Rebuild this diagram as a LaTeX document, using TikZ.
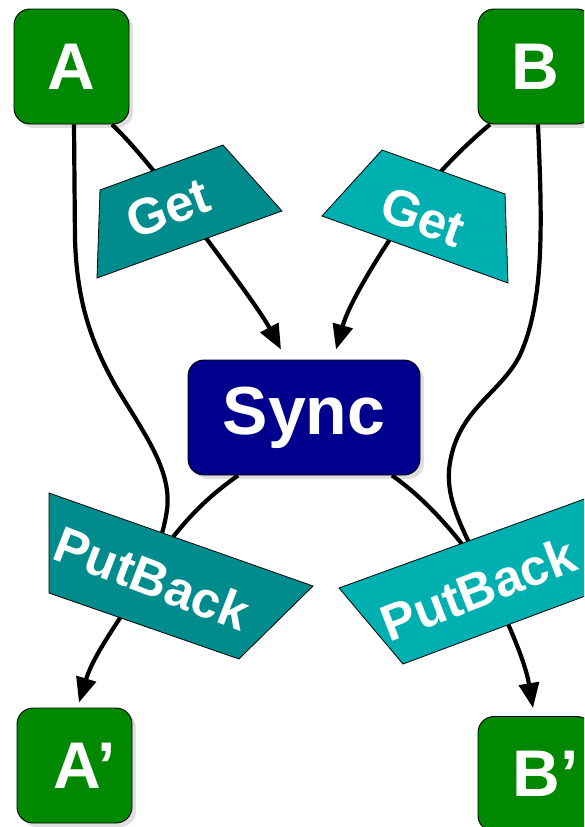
\documentclass[tikz,border=0pt]{standalone}
\usepackage{fontspec}
\setmainfont{Liberation Sans}
\usetikzlibrary{arrows.meta,shadows}

\definecolor{boxgreen}{RGB}{0,136,0}
\definecolor{syncblue}{RGB}{0,0,140}
\definecolor{tealdark}{RGB}{0,140,140}
\definecolor{teallight}{RGB}{0,176,176}

\begin{document}
\begin{tikzpicture}[x=1pt,y=-1pt,
  boxshadow/.style={drop shadow={shadow xshift=4pt,shadow yshift=-4pt,fill=black!25,opacity=.5}},
  databox/.style={draw=black,line width=0.9pt,rounded corners=16pt,fill=boxgreen,
    minimum width=115pt,minimum height=115pt,inner sep=0pt,text=white,
    font=\fontsize{66}{66}\selectfont\bfseries,boxshadow},
  syncbox/.style={databox,fill=syncblue,minimum width=232pt,
    font=\fontsize{68}{68}\selectfont\bfseries},
  lensdark/.style={draw=black,line width=0.8pt,fill=tealdark},
  lenslight/.style={draw=black,line width=0.8pt,fill=teallight},
  lenslabel/.style={text=white,inner sep=0pt,font=\fontsize{51}{51}\selectfont\bfseries},
  wire/.style={draw=black,line width=4.2pt},
  flow/.style={wire,-{Triangle[length=25pt,width=20pt]}}
]
\useasboundingbox (0,0) rectangle (584,827);
\clip (0,0) rectangle (584,827);

% data boxes and the synchroniser
\node[databox] (A)  at (71.5,66.5)  {A};
\node[databox] (B)  at (535.5,66.5) {B};
\node[databox] (A2) at (74.5,765.5) {\hspace*{20pt}A’};
\node[databox] (B2) at (535.5,774)  {\hspace*{20pt}B’};
\node[syncbox] (Sync) at (304,417.5) {Sync};

% junctions hidden beneath the lens shapes
\coordinate (getAj) at (185,210);
\coordinate (getBj) at (410,210);
\coordinate (pbAj)  at (148,572);
\coordinate (pbBj)  at (485,575);

% get direction
\draw[wire] ([xshift=40.5pt]A.south) .. controls (135,146) and (165,185) .. (getAj);
\draw[flow] (getAj) .. controls (215,250) and (260,310) .. ([xshift=-23pt,yshift=10pt]Sync.north);
\draw[wire] ([xshift=-45.5pt]B.south) .. controls (465,145) and (430,180) .. (getBj);
\draw[flow] (getBj) .. controls (385,245) and (350,300) .. ([xshift=32pt,yshift=10pt]Sync.north);

% original sources carried to putback
\draw[wire] ([xshift=2.5pt]A.south) -- (75,240)
  .. controls (77,300) and (90,340) .. (115,385)
  .. controls (145,435) and (172,470) .. (167,510)
  .. controls (164,530) and (158,548) .. (pbAj);
\draw[wire] ([xshift=2.5pt]B.south)
  .. controls (542,220) and (545,300) .. (520,355)
  .. controls (500,395) and (455,410) .. (449,470)
  .. controls (447,500) and (460,525) .. (pbBj);

% synchronised view carried to putback
\draw[wire] ([xshift=-66pt]Sync.south) .. controls (215,492) and (185,515) .. (pbAj);
\draw[wire] ([xshift=88pt]Sync.south) .. controls (420,495) and (450,525) .. (pbBj);

% putback results
\draw[flow] (pbAj) .. controls (128,610) and (95,650) .. ([xshift=4.5pt,yshift=5pt]A2.north);
\draw[flow] (pbBj) .. controls (505,615) and (525,660) .. ([xshift=-2.5pt,yshift=8pt]B2.north);

% lens shapes
\draw[lensdark]  (100,190) -- (223,145) -- (282,211) -- (97,278) -- cycle;
\draw[lenslight] (382,150) -- (505,194) -- (508,283) -- (322,216) -- cycle;
\draw[lensdark]  (49,493) -- (313,586) -- (239,659) -- (49,593) -- cycle;
\draw[lenslight] (339,588) -- (612,489) -- (612,586) -- (403,664) -- cycle;

\node[lenslabel,rotate=20]  (getA) at (168,208) {Get};
\node[lenslabel,rotate=-20] (getB) at (423,217) {Get};
\node[lenslabel,rotate=-21] (pbA)  at (152,578) {PutBack};
\node[lenslabel,rotate=21]  (pbB)  at (478,589) {PutBack};
\end{tikzpicture}
\end{document}
